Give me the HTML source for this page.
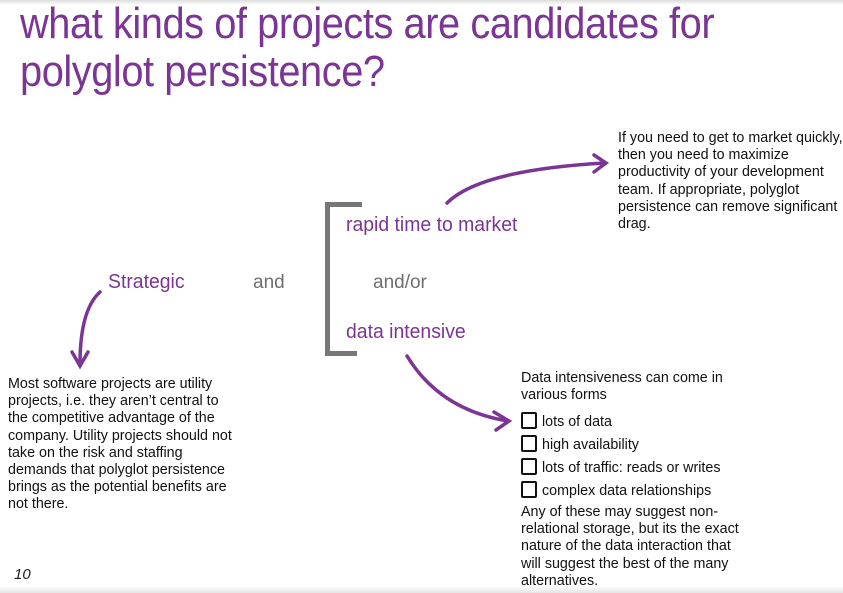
<!DOCTYPE html>
<html><head><style>
html,body{margin:0;padding:0;background:#fff;}
body{width:843px;height:593px;position:relative;overflow:hidden;font-family:"Liberation Sans",sans-serif;}
.t{position:absolute;color:#7b3594;font-family:"Liberation Sans",sans-serif;font-size:44px;line-height:48px;letter-spacing:-0.5px;transform:scaleX(0.905);transform-origin:left top;}
.h{position:absolute;color:#7b3594;font-family:"Liberation Sans",sans-serif;font-size:20px;transform:scaleX(0.97);transform-origin:left top;}
.g{position:absolute;color:#6e6e6e;font-family:"Liberation Sans",sans-serif;font-size:19px;}
.p{position:absolute;color:#111;font-size:14.3px;line-height:17.2px;}
.cb{display:inline-block;width:12px;height:13px;border:2px solid #111;border-radius:2px;vertical-align:-3px;margin-right:5px;}
</style></head><body>
<div style="position:absolute;left:0;top:0;width:843px;height:5px;background:linear-gradient(#ddd,#fff)"></div>
<div style="position:absolute;left:0;top:586px;width:843px;height:7px;background:linear-gradient(#fff,#e4e4e4)"></div>
<div class="t" style="left:20px;top:0px;">what kinds of projects are candidates for<br>polyglot persistence?</div>
<div style="position:absolute;left:325px;top:202px;width:37px;height:5px;background:#777"></div>
<div style="position:absolute;left:325px;top:202px;width:5px;height:154px;background:#777"></div>
<div style="position:absolute;left:325px;top:351px;width:32px;height:5px;background:#777"></div>
<div class="h" style="left:346px;top:214px;">rapid time to market</div>
<div class="g" style="left:373px;top:272px;">and/or</div>
<div class="h" style="left:346px;top:321px;">data intensive</div>
<div class="h" style="left:108px;top:271px;">Strategic</div>
<div class="g" style="left:253px;top:272px;">and</div>
<svg width="843" height="593" style="position:absolute;left:0;top:0" fill="none" stroke="#7b3594" stroke-width="3.5" stroke-linecap="round">
<path d="M447 203 Q480 170 605 163"/><path d="M594 155 L606 163 L594 172"/>
<path d="M100 292 Q80 310 80 364"/><path d="M72 352 L80 366 L88 352"/>
<path d="M407 356 Q440 410 508 421"/><path d="M494 412 L509 421 L496 430"/>
</svg>
<div class="p" style="left:618px;top:130px;">If you need to get to market quickly,<br>then you need to maximize<br>productivity of your development<br>team. If appropriate, polyglot<br>persistence can remove significant<br>drag.</div>
<div class="p" style="left:8px;top:376px;">Most software projects are utility<br>projects, i.e. they aren’t central to<br>the competitive advantage of the<br>company. Utility projects should not<br>take on the risk and staffing<br>demands that polyglot persistence<br>brings as the potential benefits are<br>not there.</div>
<div class="p" style="left:521px;top:370px;">Data intensiveness can come in<br>various forms</div>
<div class="p" style="left:521px;top:412px;"><span class="cb"></span>lots of data</div>
<div class="p" style="left:521px;top:435px;"><span class="cb"></span>high availability</div>
<div class="p" style="left:521px;top:458px;"><span class="cb"></span>lots of traffic: reads or writes</div>
<div class="p" style="left:521px;top:481px;"><span class="cb"></span>complex data relationships</div>
<div class="p" style="left:521px;top:504px;">Any of these may suggest non-<br>relational storage, but its the exact<br>nature of the data interaction that<br>will suggest the best of the many<br>alternatives.</div>
<div style="position:absolute;left:14px;top:566px;font-size:15px;font-style:italic;color:#222;">10</div>
</body></html>
